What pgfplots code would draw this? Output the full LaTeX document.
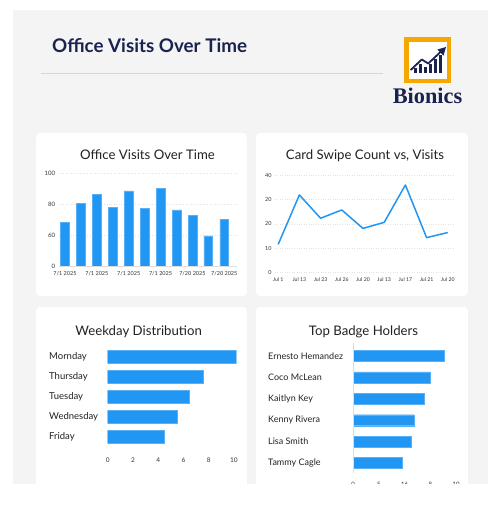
\documentclass[border=0pt]{standalone}
\usepackage{fontspec}
\setmainfont{Lato}
\newfontfamily\logofont{Liberation Serif}
\usepackage{pgfplots}
\pgfplotsset{compat=1.18}
\definecolor{barblue}{HTML}{2196F3}
\definecolor{panelgray}{HTML}{F4F4F4}
\definecolor{navy}{HTML}{1A2350}
\definecolor{logoorange}{HTML}{F6A800}
\definecolor{sepgray}{HTML}{D6D6D6}
\definecolor{gridgray}{HTML}{DDDDDD}
\definecolor{dotgray}{HTML}{E2E2E2}
\definecolor{txt}{HTML}{222222}
\definecolor{ticktxt}{HTML}{333333}
\pgfplotsset{
  card/.style={
    scale only axis, enlargelimits=false,
    axis line style={draw=none}, major tick length=0pt, tick style={draw=none},
    /pgf/number format/assume math mode=true,
    tick label style={font=\fontsize{6}{7}\selectfont, text=ticktxt},
    grid style={dotgray, dotted, line width=0.6pt},
  }
}
\begin{document}
\begin{tikzpicture}
\useasboundingbox (0,0) rectangle (498pt,-520pt);
\fill[white] (0,0) rectangle (498pt,-520pt);
\fill[panelgray] (13pt,-10pt) rectangle (488pt,-484pt);
% cards
\fill[black!5, rounded corners=4pt] (36.5pt,-133.8pt) rectangle (247.6pt,-296.8pt);
\fill[white, rounded corners=4pt] (36pt,-133pt) rectangle (247pt,-296pt);
\fill[black!5, rounded corners=4pt] (256.5pt,-133.8pt) rectangle (468.6pt,-296.8pt);
\fill[white, rounded corners=4pt] (256pt,-133pt) rectangle (468pt,-296pt);
\fill[black!5, rounded corners=4pt] (36.5pt,-307.8pt) rectangle (247.6pt,-495pt);
\fill[white, rounded corners=4pt] (36pt,-307pt) rectangle (247pt,-495pt);
\fill[black!5, rounded corners=4pt] (256.5pt,-307.8pt) rectangle (468.6pt,-495pt);
\fill[white, rounded corners=4pt] (256pt,-307pt) rectangle (468pt,-495pt);
% header
\node[anchor=base west, font=\fontsize{18.8}{21}\selectfont\bfseries, text=navy, inner sep=0pt] at (52pt,-52.7pt) {Office Visits Over Time};
\draw[sepgray, line width=0.8pt] (41pt,-73pt) -- (383pt,-73pt);
% logo
\fill[white] (406pt,-39pt) rectangle (449pt,-81pt);
\draw[logoorange, line width=4.5pt] (406.25pt,-39.25pt) rectangle (448.75pt,-80.75pt);
\foreach \xa/\yt in {414/68, 419/64, 424/66.5, 429/64, 434/59, 439/55}{
  \fill[navy] ({\xa*1pt},-73pt) rectangle ({(\xa+3.2)*1pt},{-\yt*1pt});
}
\draw[navy, line width=1.8pt, line join=round] (410.7pt,-70pt) -- (421.7pt,-59.5pt) -- (428.3pt,-63.5pt) -- (441pt,-51.5pt);
\fill[navy] (446pt,-47pt) -- (437.5pt,-49.5pt) -- (443.5pt,-55.5pt) -- cycle;
\node[font=\logofont\bfseries\fontsize{22.3}{25}\selectfont, text=navy, anchor=base, inner sep=0pt] at (427.5pt,-103.3pt) {Bionics};
% card titles
\node[font=\fontsize{13.2}{15}\selectfont, text=txt, anchor=base, inner sep=0pt] at (147.5pt,-159.3pt) {Office Visits Over Time};
\node[font=\fontsize{13.2}{15}\selectfont, text=txt, anchor=base, inner sep=0pt] at (365pt,-159.3pt) {Card Swipe Count vs, Visits};
\node[font=\fontsize{13.2}{15}\selectfont, text=txt, anchor=base, inner sep=0pt] at (138.7pt,-335pt) {Weekday Distribution};
\node[font=\fontsize{13.2}{15}\selectfont, text=txt, anchor=base, inner sep=0pt] at (363.5pt,-335pt) {Top Badge Holders};
% TL: bar chart
\begin{axis}[card, at={(58.6pt,-266pt)}, anchor=south west,
  width=178.4pt, height=93pt, xmin=-0.4, xmax=10.8, ymin=0, ymax=100,
  ytick={0,33.333,66.667,100}, yticklabels={0,60,80,100}, ymajorgrids,
  xtick={0,2,4,6,8,10},
  xticklabels={7/1 2025,7/1 2025,7/1 2025,7/1 2025,7/20 2025,7/20 2025},
  xticklabel style={font=\fontsize{5.5}{6}\selectfont, yshift=-2pt},
  yticklabel style={font=\fontsize{6}{7}\selectfont},
  ybar, bar width=8.7pt]
\addplot[fill=barblue, draw=barblue!75!white, line width=0.4pt] coordinates {(0,46.8)(1,67.6)(2,77.3)(3,62.9)(4,80.9)(5,61.9)(6,83.8)(7,60.4)(8,54.7)(9,32.4)(10,50.4)};
\draw[gridgray, line width=0.6pt] (axis cs:-0.4,0) -- (axis cs:10.8,0);
\end{axis}
% TR: line chart
\begin{axis}[card, at={(275pt,-272.3pt)}, anchor=south west,
  width=179.8pt, height=97pt, xmin=-0.15, xmax=8.33, ymin=0, ymax=40,
  ytick={0,10,20,30,40}, yticklabels={0,10,20,20,40}, ymajorgrids,
  xtick={0,1,2,3,4,5,6,7,8},
  xticklabels={Jul 1,Jul 13,Jul 23,Jul 26,Jul 20,Jul 13,Jul 17,Jul 21,Jul 20},
  xticklabel style={font=\fontsize{5.2}{6}\selectfont, yshift=-1.5pt},
  yticklabel style={font=\fontsize{5.5}{6}\selectfont}]
\addplot[barblue, line width=1.5pt, no marks, line join=round] coordinates {(0,11.5)(1,31.9)(2,22.3)(3,25.7)(4,18.1)(5,20.6)(6,36.0)(7,14.3)(8,16.4)};
\end{axis}
% BL: weekday
\begin{axis}[card, at={(107.7pt,-448.7pt)}, anchor=south west,
  width=128.8pt, height=104pt, xmin=0, xmax=10.2, ymin=-0.6, ymax=4.6,
  xbar, bar width=13.3pt,
  ytick={0,1,2,3,4}, yticklabels={Friday,Wednesday,Tuesday,Thursday,Mornday},
  yticklabel style={anchor=west, inner sep=0pt, xshift=-58.7pt, font=\fontsize{9.5}{11}\selectfont, text=txt},
  xtick={0,2,4,6,8,10},
  xticklabel style={font=\fontsize{6.5}{7}\selectfont, yshift=-5.5pt}]
\addplot[fill=barblue, draw=barblue!75!white, line width=0.4pt] coordinates {(4.51,0)(5.49,1)(6.49,2)(7.55,3)(10.16,4)};
\end{axis}
% BR: badge holders
\begin{axis}[card, at={(353pt,-473pt)}, anchor=south west,
  width=103pt, height=130pt, xmin=0, xmax=10, ymin=-0.467, ymax=5.607,
  xbar, bar width=11pt,
  ytick={0,1,2,3,4,5},
  yticklabels={Tammy Cagle,Lisa Smith,Kenny Rivera,Kaitlyn Key,Coco McLean,Ernesto Hemandez},
  yticklabel style={anchor=west, inner sep=0pt, xshift=-85pt, font=\fontsize{9}{11}\selectfont, text=txt},
  xtick={0,2.5,5,7.5,10}, xticklabels={0,5,16,8,10},
  xticklabel style={font=\fontsize{6}{7}\selectfont, yshift=-5.3pt}]
\addplot[fill=barblue, draw=barblue!75!white, line width=0.4pt] coordinates {(4.76,0)(5.63,1)(5.92,2)(6.89,3)(7.48,4)(8.86,5)};
\draw[gridgray, line width=0.8pt] (axis cs:0,-0.467) -- (axis cs:0,5.607);
\end{axis}
\fill[white] (0,-484pt) rectangle (498pt,-520pt);
\end{tikzpicture}
\end{document}
